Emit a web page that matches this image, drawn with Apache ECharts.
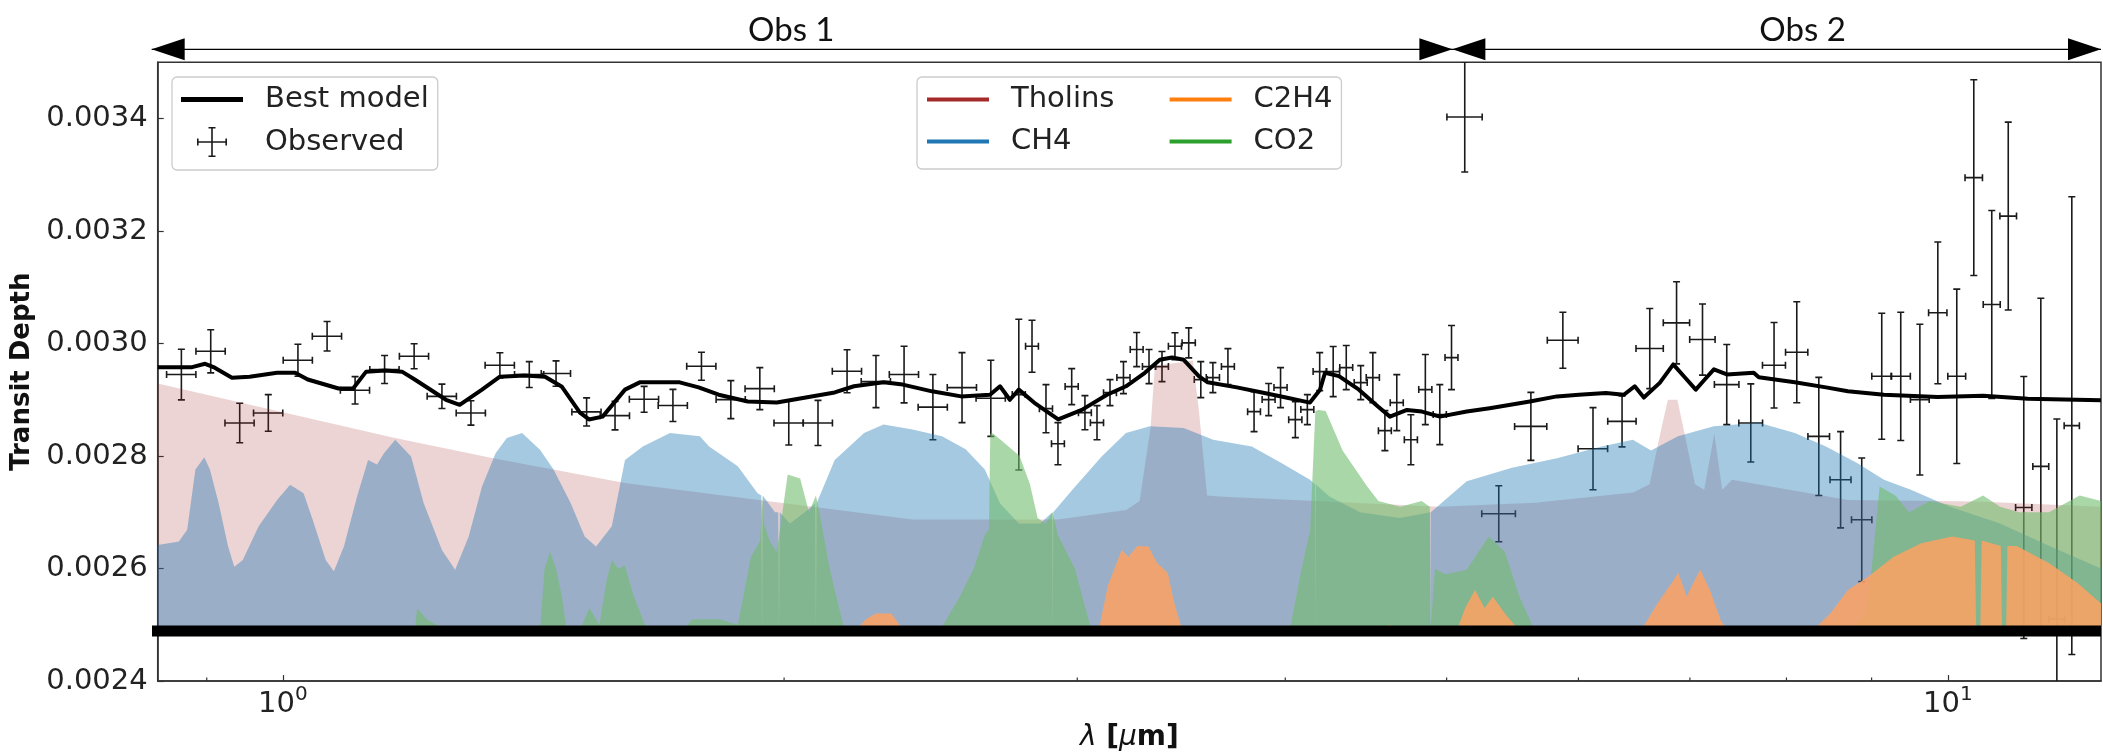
<!DOCTYPE html>
<html><head><meta charset="utf-8">
<script src="https://cdn.jsdelivr.net/npm/echarts/dist/echarts.min.js"></script>
<style>html,body{margin:0;padding:0;background:#fff;}#c{width:2103px;height:754px;}</style>
</head><body><div id="c"></div>
<script>
const BASE = 0.002489;
const xRange = [0.841, 12.36];
const yRange = [0.0024, 0.0035];
const yInterval = 0.0002;
const minorTicks = [0.9, 2, 3, 4, 5, 6, 7, 8, 9];
const obsEdges = [0.834, 5.04, 12.36];
const obsLabels = [{text: 'Obs 1', at: 2.02}, {text: 'Obs 2', at: 8.18}];

const bestModel = [[0.841,0.002958],[0.882,0.002958],[0.898,0.002964],[0.910,0.002957],[0.932,0.002939],[0.955,0.002941],[0.992,0.002948],[1.017,0.002948],[1.035,0.002936],[1.080,0.002920],[1.102,0.002920],[1.122,0.002950],[1.152,0.002952],[1.179,0.002950],[1.200,0.002936],[1.253,0.002900],[1.277,0.002891],[1.317,0.002918],[1.350,0.002941],[1.397,0.002943],[1.437,0.002941],[1.471,0.002923],[1.508,0.002877],[1.527,0.002865],[1.556,0.002870],[1.605,0.002918],[1.638,0.002931],[1.731,0.002931],[1.777,0.002922],[1.827,0.002909],[1.902,0.002897],[1.980,0.002895],[2.061,0.002904],[2.145,0.002913],[2.203,0.002924],[2.295,0.002931],[2.357,0.002927],[2.454,0.002915],[2.555,0.002906],[2.659,0.002909],[2.696,0.002924],[2.733,0.002900],[2.767,0.002918],[2.826,0.002895],[2.922,0.002865],[3.019,0.002882],[3.126,0.002909],[3.209,0.002924],[3.294,0.002948],[3.363,0.002971],[3.420,0.002975],[3.476,0.002971],[3.549,0.002942],[3.593,0.002931],[3.741,0.002922],[3.873,0.002913],[4.004,0.002904],[4.139,0.002895],[4.197,0.002918],[4.226,0.002948],[4.308,0.002942],[4.429,0.002918],[4.547,0.002888],[4.623,0.002870],[4.733,0.002882],[4.832,0.002879],[4.954,0.002870],[5.141,0.002879],[5.307,0.002885],[5.610,0.002897],[5.824,0.002906],[6.004,0.002909],[6.232,0.002912],[6.389,0.002909],[6.486,0.002924],[6.568,0.002904],[6.714,0.002930],[6.841,0.002963],[6.950,0.002940],[7.057,0.002918],[7.145,0.002936],[7.236,0.002954],[7.367,0.002945],[7.646,0.002948],[7.700,0.002940],[8.093,0.002931],[8.449,0.002922],[8.710,0.002915],[9.155,0.002909],[9.860,0.002905],[10.50,0.002907],[11.17,0.002902],[12.36,0.002899]];

const tholins = [[0.841,0.002929],[1.164,0.002833],[1.333,0.002797],[1.605,0.002752],[1.78,0.002735],[2.39,0.002687],[2.92,0.002687],[3.21,0.002704],[3.27,0.00272],[3.32,0.00285],[3.34,0.00296],[3.52,0.00297],[3.55,0.00288],[3.59,0.00273],[3.65,0.002728],[4.95,0.00271],[5.65,0.002717],[6.47,0.002735],[6.62,0.00275],[6.73,0.00285],[6.79,0.0029],[6.88,0.0029],[6.96,0.00283],[7.05,0.00275],[7.14,0.00274],[7.24,0.00284],[7.32,0.00274],[7.42,0.002758],[8.71,0.002722],[10.42,0.002719],[12.36,0.00271]];

const ch4 = [[0.841,0.002642],[0.866,0.002648],[0.876,0.002669],[0.886,0.002776],[0.897,0.002798],[0.904,0.002776],[0.915,0.002716],[0.927,0.002639],[0.935,0.002603],[0.946,0.002615],[0.967,0.002675],[0.992,0.002722],[1.010,0.002749],[1.029,0.002734],[1.042,0.002687],[1.061,0.002615],[1.073,0.002595],[1.088,0.002639],[1.108,0.002728],[1.125,0.002793],[1.139,0.002785],[1.150,0.002805],[1.168,0.002829],[1.194,0.002799],[1.215,0.002716],[1.246,0.002633],[1.269,0.002598],[1.293,0.002657],[1.317,0.002746],[1.342,0.002805],[1.363,0.002832],[1.392,0.002841],[1.427,0.002811],[1.454,0.002776],[1.489,0.002716],[1.518,0.002657],[1.542,0.002639],[1.576,0.002675],[1.605,0.002793],[1.645,0.002817],[1.708,0.002841],[1.780,0.002835],[1.803,0.002817],[1.876,0.002782],[1.928,0.002734],[1.938,0.00273],[1.940,BASE],[1.942,0.00273],[1.975,0.0027],[1.984,0.0027],[1.986,BASE],[1.988,0.0027],[2.016,0.00268],[2.058,0.0027],[2.088,0.002716],[2.090,BASE],[2.092,0.002716],[2.145,0.002793],[2.234,0.002841],[2.295,0.002856],[2.389,0.002847],[2.488,0.002835],[2.571,0.002812],[2.640,0.002776],[2.696,0.002716],[2.767,0.00268],[2.850,0.00268],[2.898,0.0027],[2.900,BASE],[2.902,0.0027],[2.980,0.00274],[3.103,0.002799],[3.209,0.002841],[3.317,0.002853],[3.476,0.00285],[3.620,0.002829],[3.819,0.002817],[3.976,0.002788],[4.139,0.002758],[4.168,0.00275],[4.170,BASE],[4.172,0.00275],[4.252,0.002728],[4.436,0.0027],[4.688,0.00269],[4.888,0.0027],[4.890,BASE],[4.892,0.0027],[4.927,0.002708],[5.141,0.002755],[5.473,0.002779],[5.824,0.002796],[6.196,0.002817],[6.469,0.002829],[6.634,0.00281],[6.885,0.002835],[7.236,0.002853],[7.700,0.002859],[8.093,0.002841],[8.449,0.002817],[8.816,0.002788],[9.155,0.002758],[9.502,0.00274],[10.03,0.00271],[10.75,0.00268],[11.51,0.00264],[12.36,0.0026]];

const c2h4 = [[0.841,BASE],[2.206,BASE],[2.24,0.00251],[2.27,0.00252],[2.32,0.00252],[2.36,BASE],[3.06,BASE],[3.095,0.0025],[3.13,0.00257],[3.19,0.002633],[3.22,0.002621],[3.26,0.00264],[3.31,0.002639],[3.35,0.00261],[3.40,0.002592],[3.43,0.00254],[3.47,BASE],[4.55,BASE],[4.62,0.0025],[4.68,BASE],[5.07,BASE],[5.13,0.00253],[5.2,0.002562],[5.27,0.00253],[5.33,0.00255],[5.42,0.00252],[5.53,BASE],[6.54,BASE],[6.70,0.00254],[6.81,0.00257],[6.89,0.002592],[6.97,0.00255],[7.02,0.00257],[7.10,0.002598],[7.20,0.00256],[7.30,0.00251],[7.37,BASE],[8.29,BASE],[8.5,0.00252],[8.71,0.002562],[8.96,0.002586],[9.28,0.002621],[9.64,0.002645],[10.06,0.002657],[10.38,0.00265],[10.40,BASE],[10.46,BASE],[10.48,0.00265],[10.76,0.00264],[10.78,BASE],[10.84,BASE],[10.86,0.00264],[11.0,0.00264],[11.5,0.00261],[11.97,0.002574],[12.36,0.002538]];

const co2 = [[0.841,BASE],[1.200,BASE],[1.204,0.00253],[1.22,0.00251],[1.237,0.0025],[1.245,BASE],[1.427,BASE],[1.436,0.0026],[1.447,0.00263],[1.459,0.0026],[1.471,0.00255],[1.481,BASE],[1.507,BASE],[1.528,0.00253],[1.549,0.0025],[1.565,0.00258],[1.576,0.002615],[1.59,0.0026],[1.605,0.002605],[1.625,0.00255],[1.65,0.0025],[1.67,BASE],[1.74,BASE],[1.76,0.00251],[1.83,0.00251],[1.876,0.0025],[1.91,0.00262],[1.935,0.00265],[1.94,0.00273],[1.945,0.00268],[1.96,0.00265],[1.98,0.00263],[2.01,0.002767],[2.045,0.00276],[2.07,0.0027],[2.09,0.00273],[2.10,0.0027],[2.13,0.0026],[2.175,BASE],[2.48,BASE],[2.55,0.00255],[2.60,0.0026],[2.64,0.00266],[2.655,0.00267],[2.66,0.00284],[2.67,0.00284],[2.696,0.00283],[2.77,0.0028],[2.81,0.00275],[2.84,0.00269],[2.87,0.00268],[2.90,0.0027],[2.92,0.00266],[2.99,0.0026],[3.06,BASE],[3.98,BASE],[4.03,0.0025],[4.09,0.002598],[4.14,0.002669],[4.17,0.00288],[4.19,0.002882],[4.23,0.00288],[4.33,0.00281],[4.48,0.002746],[4.55,0.00272],[4.69,0.00271],[4.83,0.00272],[4.885,0.00271],[4.89,BASE],[4.92,0.0026],[4.99,0.00259],[5.14,0.002598],[5.30,0.002657],[5.42,0.00263],[5.53,0.00255],[5.65,BASE],[8.74,BASE],[8.94,0.00252],[9.0,0.0026],[9.1,0.002746],[9.3,0.00273],[9.48,0.0027],[9.75,0.00272],[10.18,0.00271],[10.5,0.00273],[10.75,0.00271],[11.04,0.0027],[11.5,0.0027],[12.0,0.00273],[12.36,0.00272]];

// [wavelength, depth, xerr, yerr]
const observed = [[0.869,0.0029448,0.0176,0.0000449],[0.905,0.0029862,0.0183,0.0000383],[0.942,0.0028588,0.0190,0.0000351],[0.980,0.0028766,0.0198,0.0000326],[1.021,0.0029702,0.0206,0.0000285],[1.063,0.0030130,0.0215,0.0000262],[1.105,0.0029168,0.0223,0.0000244],[1.151,0.0029537,0.0233,0.0000249],[1.199,0.0029774,0.0242,0.0000223],[1.246,0.0029061,0.0252,0.0000217],[1.297,0.0028766,0.0262,0.0000217],[1.350,0.0029613,0.0273,0.0000223],[1.406,0.0029448,0.0284,0.0000231],[1.459,0.0029466,0.0295,0.0000226],[1.522,0.0028784,0.0307,0.0000249],[1.583,0.0028718,0.0320,0.0000253],[1.648,0.0029008,0.0333,0.0000231],[1.715,0.0028899,0.0346,0.0000285],[1.784,0.0029596,0.0360,0.0000249],[1.858,0.0029003,0.0375,0.0000338],[1.934,0.0029198,0.0391,0.0000374],[2.013,0.0028588,0.0407,0.0000392],[2.096,0.0028588,0.0423,0.0000401],[2.182,0.0029507,0.0441,0.0000383],[2.271,0.0029323,0.0459,0.0000463],[2.361,0.0029448,0.0477,0.0000504],[2.457,0.0028869,0.0496,0.0000579],[2.558,0.0029216,0.0517,0.0000623],[2.662,0.0029026,0.0538,0.0000677],[2.767,0.0029092,0.025,0.000134],[2.818,0.0029952,0.025,0.0000463],[2.873,0.0028842,0.026,0.0000427],[2.921,0.0028219,0.026,0.0000374],[2.977,0.0029234,0.027,0.0000320],[3.032,0.0028771,0.027,0.0000303],[3.083,0.0028593,0.028,0.0000303],[3.139,0.0029127,0.028,0.0000231],[3.198,0.0029394,0.029,0.0000285],[3.257,0.0029893,0.029,0.0000303],[3.313,0.0029590,0.030,0.0000303],[3.373,0.0029590,0.030,0.0000267],[3.434,0.0029952,0.031,0.0000240],[3.500,0.0030012,0.032,0.0000267],[3.559,0.0029359,0.032,0.0000320],[3.619,0.0029394,0.033,0.0000267],[3.695,0.0029590,0.033,0.0000320],[3.831,0.0028789,0.034,0.0000356],[3.909,0.0029003,0.035,0.0000285],[3.974,0.0029216,0.036,0.0000356],[4.056,0.0028647,0.037,0.0000320],[4.124,0.0028825,0.037,0.0000267],[4.195,0.0029501,0.038,0.0000338],[4.274,0.0029501,0.038,0.0000445],[4.352,0.0029572,0.039,0.0000392],[4.440,0.0029305,0.040,0.0000303],[4.515,0.0029394,0.041,0.0000445],[4.591,0.0028451,0.041,0.0000356],[4.667,0.0028949,0.042,0.0000498],[4.759,0.0028290,0.043,0.0000445],[4.855,0.0029181,0.044,0.0000623],[4.953,0.0028736,0.045,0.0000534],[5.034,0.0029750,0.045,0.0000570],[5.127,0.0034028,0.125,0.0000979],[5.374,0.0026973,0.125,0.0000498],[5.618,0.0028527,0.125,0.0000605],[5.872,0.0030058,0.125,0.0000498],[6.122,0.0028130,0.125,0.0000730],[6.373,0.0028616,0.125,0.0000454],[6.622,0.0029911,0.125,0.0000712],[6.872,0.0030368,0.125,0.0000730],[7.123,0.0030071,0.125,0.0000632],[7.366,0.0029270,0.125,0.0000712],[7.615,0.0028588,0.125,0.0000694],[7.864,0.0029613,0.125,0.0000760],[8.115,0.0029845,0.125,0.0000899],[8.366,0.0028349,0.125,0.000105],[8.622,0.0027578,0.125,0.0000855],[8.878,0.0026866,0.125,0.000110],[9.127,0.0029417,0.125,0.000112],[9.370,0.0029417,0.125,0.000114],[9.621,0.0029003,0.125,0.000134],[9.863,0.0030546,0.125,0.000126],[10.125,0.0029417,0.125,0.000155],[10.366,0.0032949,0.125,0.000174],[10.627,0.0030694,0.125,0.000167],[10.872,0.0032266,0.125,0.000167],[11.108,0.0027085,0.125,0.000233],[11.373,0.0027815,0.125,0.000299],[11.628,0.0025098,0.125,0.000356],[11.871,0.0028540,0.125,0.000407]];

// legend (line) colours and fill colours / opacities
const COLORS = {tholins: '#a52a2a', ch4: '#1f77b4', c2h4: '#ff7f0e', co2: '#2ca02c'};
const FILLS = {tholins: ['#a52a2a', 0.2], ch4: ['#1f77b4', 0.4], co2: ['#71bc6e', 0.6], c2h4: ['#ffa262', 0.85]};
const FONT = 'DejaVu Sans';
const GRID = {left: 157.7, right: 2, top: 62.3, bottom: 73};

const chart = echarts.init(document.getElementById('c'), null, {renderer: 'canvas'});

function areaSeries(name, data, color, fill) {
  return {name, type: 'line', data, symbol: 'none', showSymbol: false, smooth: false, silent: true,
    lineStyle: {width: 0, color}, itemStyle: {color},
    areaStyle: {color: fill[0], opacity: fill[1], origin: BASE}};
}
function errRender(params, api) {
  const x = api.value(0), y = api.value(1), xe = api.value(2), ye = api.value(3);
  const c = api.coord([x, y]);
  const t = api.coord([x, y + ye]);
  const b = api.coord([x, y - ye]);
  const l = api.coord([x - xe, y]);
  const r = api.coord([x + xe, y]);
  const cap = 3.5;
  const style = {stroke: '#1a1a1a', lineWidth: 1.6, fill: null};
  const ln = (x1, y1, x2, y2) => ({type: 'line', shape: {x1, y1, x2, y2}, style});
  return {type: 'group', children: [
    ln(c[0], t[1], c[0], b[1]), ln(l[0], c[1], r[0], c[1]),
    ln(c[0] - cap, t[1], c[0] + cap, t[1]), ln(c[0] - cap, b[1], c[0] + cap, b[1]),
    ln(l[0], c[1] - cap, l[0], c[1] + cap), ln(r[0], c[1] - cap, r[0], c[1] + cap)
  ]};
}
function minorRender(params, api) {
  const c = api.coord([api.value(0), api.value(1)]);
  return {type: 'line', shape: {x1: c[0], y1: c[1], x2: c[0], y2: c[1] - 3.5}, style: {stroke: '#333', lineWidth: 1.2}};
}

const lineIcon = 'path://M0,0h62v4h-62z';
const crossIcon = 'path://M14.2,0h1.6v30h-1.6z M0,14.2h30v1.6h-30z M11.5,0h7v1.6h-7z M11.5,28.4h7v1.6h-7z M0,11.5h1.6v7h-1.6z M28.4,11.5h1.6v7h-1.6z';
const legendBase = {orient: 'vertical', itemWidth: 62, itemHeight: 30, itemGap: 13, selectedMode: false,
  textStyle: {fontFamily: FONT, fontSize: 29, color: '#222', padding: [0, 0, 0, 17]}};
const boxStyle = {backgroundColor: 'rgba(255,255,255,0.8)', borderColor: '#cccccc', borderWidth: 1.3, borderRadius: 5};

const option = {
  animation: false,
  textStyle: {fontFamily: FONT},
  grid: Object.assign({show: true, borderColor: '#333', borderWidth: 1.5, backgroundColor: 'transparent', containLabel: false, outerBoundsMode: 'none'}, GRID),
  xAxis: {
    type: 'log', logBase: 10, min: xRange[0], max: xRange[1],
    axisLine: {show: true, lineStyle: {color: '#333', width: 1.5}},
    axisTick: {show: true, inside: true, length: 6, lineStyle: {color: '#333', width: 1.2}},
    splitLine: {show: false}, minorTick: {show: false},
    axisLabel: {
      margin: 4, showMinLabel: false, showMaxLabel: false,
      formatter: v => { const e = Math.log10(v); const r = Math.round(e); return Math.abs(e - r) < 1e-6 ? '{b|10}{s|' + r + '}' : ''; },
      rich: {b: {fontFamily: FONT, fontSize: 29, color: '#222', lineHeight: 34, verticalAlign: 'bottom'},
             s: {fontFamily: FONT, fontSize: 20, color: '#222', lineHeight: 20, verticalAlign: 'top'}}
    },
    name: '{i|λ}{b| [}{i|μ}{b|m]}', nameLocation: 'middle', nameGap: 40,
    nameTextStyle: {rich: {i: {fontFamily: FONT, fontSize: 28, fontStyle: 'italic', color: '#111'},
                           b: {fontFamily: FONT, fontSize: 28, fontWeight: 'bold', color: '#111'}}}
  },
  yAxis: {
    type: 'value', min: yRange[0], max: yRange[1], interval: yInterval,
    axisLine: {show: true, lineStyle: {color: '#333', width: 1.5}},
    axisTick: {show: true, inside: true, length: 6, lineStyle: {color: '#333', width: 1.2}},
    splitLine: {show: false},
    axisLabel: {formatter: v => v.toFixed(4), fontFamily: FONT, fontSize: 29, color: '#222', margin: 10, showMaxLabel: false},
    name: 'Transit Depth', nameLocation: 'middle', nameGap: 117, nameRotate: 90,
    nameTextStyle: {fontFamily: FONT, fontSize: 26, fontWeight: 'bold', color: '#111'}
  },
  legend: [
    Object.assign({}, legendBase, boxStyle, {left: 172, top: 77, padding: [8, 9, 13, 9],
      data: [{name: 'Best model', icon: 'path://M0,0h63v5h-63z'}, {name: 'Observed', icon: crossIcon}]}),
    Object.assign({}, legendBase, boxStyle, {left: 917, top: 77, padding: [8, 227, 13, 10],
      data: [{name: 'Tholins', icon: lineIcon}, {name: 'CH4', icon: lineIcon}]}),
    Object.assign({}, legendBase, {left: 1169.6, top: 85, padding: 0,
      data: [{name: 'C2H4', icon: lineIcon}, {name: 'CO2', icon: lineIcon}]})
  ],
  series: [
    areaSeries('Tholins', tholins, COLORS.tholins, FILLS.tholins),
    areaSeries('CH4', ch4, COLORS.ch4, FILLS.ch4),
    areaSeries('CO2', co2, COLORS.co2, FILLS.co2),
    areaSeries('C2H4', c2h4, COLORS.c2h4, FILLS.c2h4),
    {type: 'line', data: [[0.832, BASE], [xRange[1], BASE]], symbol: 'none', silent: true, clip: false,
     lineStyle: {width: 11, color: '#000', cap: 'butt'}},
    {name: 'Best model', type: 'line', data: bestModel, symbol: 'none', showSymbol: false, silent: true,
     lineStyle: {width: 4, color: '#000', join: 'round'}, itemStyle: {color: '#000'}},
    {name: 'Observed', type: 'custom', data: observed, renderItem: errRender, encode: {x: 0, y: 1},
     itemStyle: {color: '#1a1a1a'}, clip: true, silent: true},
    {type: 'custom', data: minorTicks.map(v => [v, yRange[0]]), renderItem: minorRender, encode: {x: 0, y: 1}, clip: false, silent: true}
  ]
};
chart.setOption(option);

// Observation-range arrows above the plot, positioned from wavelengths
const yA = GRID.top - 13;
const px = obsEdges.map(v => chart.convertToPixel({xAxisIndex: 0}, v));
const head = (tip, dir) => ({type: 'polygon', silent: true, shape: {points: [[tip, yA], [tip - dir * 33, yA - 11], [tip - dir * 33, yA + 11]]}, style: {fill: '#000'}});
const graphics = [
  {type: 'line', silent: true, shape: {x1: px[0], y1: yA, x2: px[2], y2: yA}, style: {stroke: '#000', lineWidth: 1.3}},
  head(px[0], -1), head(px[1], 1), head(px[1], -1), head(px[2], 1)
];
obsLabels.forEach(o => {
  const x = chart.convertToPixel({xAxisIndex: 0}, o.at);
  graphics.push({type: 'text', silent: true, x: x, y: 30, style: {text: o.text, font: '33px Lato', fill: '#111', align: 'center', verticalAlign: 'middle', textAlign: 'center', textVerticalAlign: 'middle'}});
});
chart.setOption({graphic: graphics});
</script>
</body></html>
